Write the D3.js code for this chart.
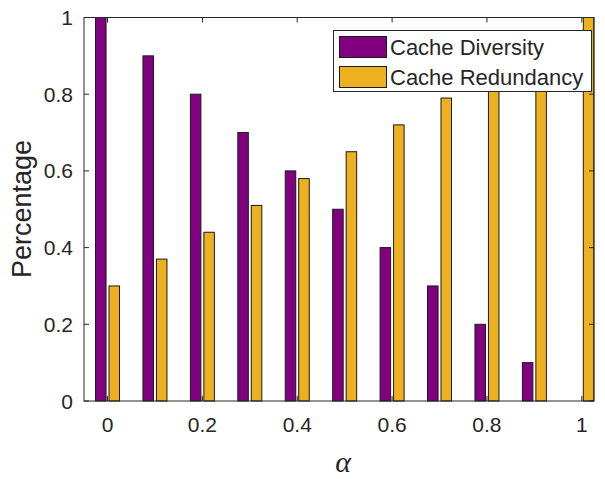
<!DOCTYPE html>
<html><head><meta charset="utf-8">
<script src="https://cdn.jsdelivr.net/npm/d3@7"></script>
<style>body{margin:0;background:#fff;} svg{display:block;}</style>
</head><body>
<svg id="chart" width="605" height="479"></svg>
<script>
const alphas = [0, 0.1, 0.2, 0.3, 0.4, 0.5, 0.6, 0.7, 0.8, 0.9, 1.0];
const diversity = [1.0, 0.9, 0.8, 0.7, 0.6, 0.5, 0.4, 0.3, 0.2, 0.1, 0.0];
const redundancy = [0.30, 0.37, 0.44, 0.51, 0.58, 0.65, 0.72, 0.79, 0.86, 0.93, 1.0];
const seriesNames = ["Cache Diversity", "Cache Redundancy"];
const seriesColors = ["#800080", "#EDB120"];
const xTicks = [0, 0.2, 0.4, 0.6, 0.8, 1];
const yTicks = [0, 0.2, 0.4, 0.6, 0.8, 1];

const svg = d3.select("#chart");
const L = 84, R = 594, T = 17.5, B = 401;
const axisColor = "#262626";
const font = "'Liberation Sans', Arial, sans-serif";

const x = d3.scaleLinear().domain([-0.0496, 1.0257]).range([L, R]);
const y = d3.scaleLinear().domain([0, 1]).range([B, T]);
const sub = d3.scaleBand().domain([0, 1]).range([-12, 12]).paddingInner(0.22);

const data = [diversity, redundancy];
data.forEach((vals, si) => {
  svg.append("g").selectAll("rect").data(vals).join("rect")
    .attr("x", (d, i) => x(alphas[i]) + sub(si))
    .attr("width", sub.bandwidth())
    .attr("y", d => y(d))
    .attr("height", d => y(0) - y(d))
    .attr("fill", seriesColors[si])
    .attr("stroke", "#1a1a1a")
    .attr("stroke-width", 1);
});

// box
svg.append("rect").attr("x", L).attr("y", T).attr("width", R - L).attr("height", B - T)
  .attr("fill", "none").attr("stroke", axisColor).attr("stroke-width", 1);

const tl = 5;
const g = svg.append("g").attr("stroke", axisColor).attr("stroke-width", 1);
xTicks.forEach(t => {
  g.append("line").attr("x1", x(t)).attr("x2", x(t)).attr("y1", B).attr("y2", B - tl);
  g.append("line").attr("x1", x(t)).attr("x2", x(t)).attr("y1", T).attr("y2", T + tl);
});
yTicks.forEach(t => {
  g.append("line").attr("x1", L).attr("x2", L + tl).attr("y1", y(t)).attr("y2", y(t));
  g.append("line").attr("x1", R).attr("x2", R - tl).attr("y1", y(t)).attr("y2", y(t));
});

const fmt = d => d3.format("~g")(d);
svg.append("g").selectAll("text").data(xTicks).join("text")
  .attr("x", d => x(d)).attr("y", 432)
  .attr("text-anchor", "middle")
  .attr("font-family", font).attr("font-size", 21).attr("fill", axisColor)
  .text(fmt);
svg.append("g").selectAll("text").data(yTicks).join("text")
  .attr("x", 73).attr("y", d => y(d) + 7.5)
  .attr("text-anchor", "end")
  .attr("font-family", font).attr("font-size", 21).attr("fill", axisColor)
  .text(fmt);

// axis labels
svg.append("text").attr("transform", "translate(31,209) rotate(-90)")
  .attr("text-anchor", "middle").attr("font-family", font).attr("font-size", 27)
  .attr("fill", axisColor).text("Percentage");
svg.append("text").attr("x", 343).attr("y", 472)
  .attr("text-anchor", "middle").attr("font-family", "'Liberation Serif', 'Times New Roman', serif")
  .attr("font-style", "italic").attr("font-size", 30).attr("fill", axisColor).text("α");

// legend
const lg = svg.append("g");
lg.append("rect").attr("x", 333.5).attr("y", 30.5).attr("width", 258).attr("height", 61)
  .attr("fill", "#fff").attr("stroke", axisColor).attr("stroke-width", 1);
seriesNames.forEach((name, i) => {
  const yy = 36 + i * 30;
  lg.append("rect").attr("x", 339.5).attr("y", yy + 0.5).attr("width", 47).attr("height", 21)
    .attr("fill", seriesColors[i]).attr("stroke", "#1a1a1a").attr("stroke-width", 1);
  lg.append("text").attr("x", 390).attr("y", yy + 18.5)
    .attr("font-family", font).attr("font-size", 22).attr("fill", axisColor).text(name);
});
</script>
</body></html>
